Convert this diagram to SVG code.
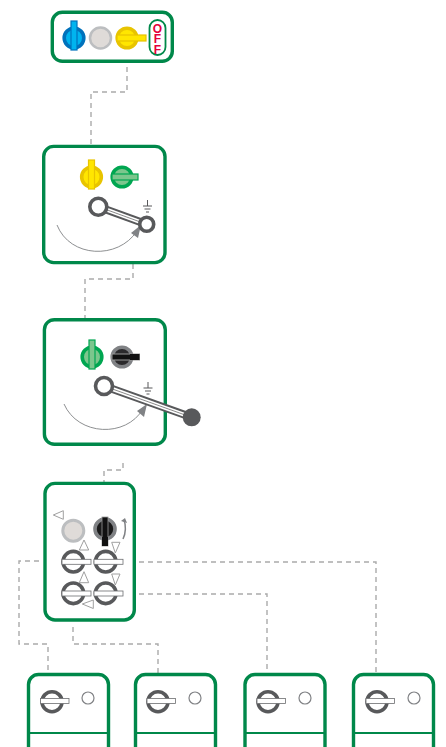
<svg xmlns="http://www.w3.org/2000/svg" width="446" height="747" viewBox="0 0 446 747">
<style>
.box{fill:#fff;stroke:#00884a;stroke-width:3.4}
.thin{fill:none;stroke:#00884a;stroke-width:2}
.c{fill:none;stroke:#aaa;stroke-width:1.4;stroke-dasharray:5 4}
.sw{fill:#fff;stroke:#58595b;stroke-width:3.6}
.bar{fill:#fff;stroke:#6d6e71;stroke-width:.8}
.tri{fill:#fff;stroke:#a0a0a0;stroke-width:1}
.led{fill:#fff;stroke:#808285;stroke-width:1.2}
.arc{fill:none;stroke:#808285;stroke-width:.9}
.hd{fill:#808285}
.gnd{fill:none;stroke:#58595b;stroke-width:1}
.off{font:bold 12px "Liberation Sans",Arial,sans-serif;fill:#e4003a;writing-mode:vertical-rl;text-orientation:upright;letter-spacing:-3.500px;text-anchor:middle}
.blue{fill:#00b4ef;stroke:#0072bc}
.yel{fill:#ffe600;stroke:#e8c400}
.grn{fill:#7cc68d;stroke:#00a651}
.blk{fill:#2b2a2c;stroke:#808285}
.k{stroke-width:3.6}
.b{stroke-width:1.2}
</style>
<g id="connectors">
<path class="c" d="M127 67V92H91V146"/>
<path class="c" d="M133 264V279H85V319"/>
<path class="c" d="M123 463V470H104V483"/>
<path class="c" d="M39 561H19V644H48V674"/>
<path class="c" d="M73 627V644H158V674"/>
<path class="c" d="M139 594H267V674"/>
<path class="c" d="M139 562H376V674"/>
</g>
<g id="node1">
<rect class="box" x="52.300" y="12.300" width="120" height="49" rx="10"/>
<circle class="blue k" cx="74" cy="38" r="9.800"/>
<rect class="blue b" x="71" y="21" width="6" height="29"/>
<circle cx="100.500" cy="38" r="10.500" fill="#dfdbd8" stroke="#bcbec0" stroke-width="2.500"/>
<circle class="yel k" cx="127" cy="38" r="9.800"/>
<rect class="yel b" x="117" y="35" width="29" height="6"/>
<rect x="149.500" y="20" width="16" height="35" rx="8" fill="#fff" stroke="#00884a" stroke-width="1.800"/>
<text class="off" x="157.500" y="37.500">OFF</text>
</g>
<g id="node2">
<rect class="box" x="43.700" y="146.400" width="121.300" height="116.200" rx="10"/>
<circle class="yel k" cx="91.500" cy="177" r="9.800"/>
<rect class="yel b" x="88.500" y="160" width="6" height="29"/>
<circle class="grn k" cx="122" cy="177" r="9.800"/>
<rect class="grn b" x="112" y="174" width="26" height="6"/>
<path class="arc" d="M57 225C70 258 118 260 137 231"/>
<path class="hd" d="M141 225L131 233L138 238Z"/>
<path d="M98.300 206.700L146.700 224.300" stroke="#58595b" stroke-width="8"/><path d="M98.300 206.700L146.700 224.300" stroke="#fff" stroke-width="4"/><path d="M98.300 206.700L146.700 224.300" stroke="#8a8a8a" stroke-width="1"/>
<circle class="sw" cx="98.300" cy="206.700" r="8.500"/><circle class="sw" cx="146.700" cy="224.300" r="7"/>
<path class="gnd" d="M147.500 200v6M143 206h9M144.500 209h6M146 212h3"/>
</g>
<g id="node3">
<rect class="box" x="44.400" y="319.700" width="120.900" height="124.600" rx="10"/>
<circle class="grn k" cx="92" cy="357" r="9.800"/>
<rect class="grn b" x="89" y="340" width="6" height="29"/>
<circle class="blk k" cx="122" cy="357" r="9.800"/>
<rect x="112" y="354" width="27.500" height="6" fill="#111" stroke="#9a9a9a" stroke-width="1"/><rect x="130" y="354" width="9.500" height="6" fill="#111"/>
<path class="arc" d="M64 404C78 436 126 438 143 409"/>
<path class="hd" d="M147 404L137 411L144 417Z"/>
<path d="M104 386L191.700 417.300" stroke="#58595b" stroke-width="8"/><path d="M104 386L186 415.300" stroke="#fff" stroke-width="4"/><path d="M104 386L186 415.300" stroke="#8a8a8a" stroke-width="1"/>
<circle class="sw" cx="104" cy="386" r="8.500"/><circle cx="191.700" cy="417.300" r="9" fill="#58595b"/>
<path class="gnd" d="M148 382v6M143.500 388h9M145 391h6M146.500 394h3"/>
</g>
<g id="node4">
<rect class="box" x="45" y="483.400" width="89.300" height="136.600" rx="10"/>
<path class="tri" d="M53.300 515L63.300 510.700V519.300Z"/>
<circle cx="73.300" cy="530.700" r="10.500" fill="#dfdbd8" stroke="#bcbec0" stroke-width="3"/>
<circle class="k" cx="105" cy="529" r="10" fill="#1a1a1a" stroke="#808285"/>
<rect x="102" y="517" width="6" height="29" fill="#111" stroke="#9a9a9a" stroke-width=".8"/><rect x="102" y="537" width="6" height="9" fill="#111"/>
<path d="M123 539C126 533 126 525 124 520" fill="none" stroke="#808285" stroke-width="1.500"/><path class="hd" d="M121 521L125 518L127 523Z"/>
<path class="tri" d="M84 540L79.300 550H88.700Z"/><path class="tri" d="M111.700 542.300H120L115.300 553Z"/>
<path class="tri" d="M84 571.700L79.300 582.700H88.700Z"/><path class="tri" d="M111.700 574H120L115.300 585Z"/>
<path class="tri" d="M82.300 604L93.300 600V608.500Z"/>
<g><circle class="sw" cx="73.300" cy="561.700" r="10.300"/><rect class="bar" x="62" y="559.300" width="29" height="5"/></g>
<g><circle class="sw" cx="105.700" cy="561.700" r="10.300"/><rect class="bar" x="94" y="559.300" width="29" height="5"/></g>
<g><circle class="sw" cx="73.300" cy="593.300" r="10.300"/><rect class="bar" x="62" y="591" width="29" height="5"/></g>
<g><circle class="sw" cx="105.700" cy="593.300" r="10.300"/><rect class="bar" x="94" y="591" width="29" height="5"/></g>
</g>
<g id="node5">
<path class="box" d="M28.500 747V684.500a10 10 0 0 1 10-10h60a10 10 0 0 1 10 10v62.500"/><path class="thin" d="M28.500 733h80"/>
<circle class="sw" cx="52" cy="701.700" r="10"/><rect class="bar" x="40.500" y="698.500" width="28.500" height="5"/><circle class="led" cx="88" cy="698" r="6"/>
</g>
<g id="node6">
<path class="box" d="M135.500 747V684.500a10 10 0 0 1 10-10h60a10 10 0 0 1 10 10v62.500"/><path class="thin" d="M135.500 733h80"/>
<circle class="sw" cx="158" cy="701.700" r="10"/><rect class="bar" x="147" y="698.500" width="28.500" height="5"/><circle class="led" cx="195" cy="698" r="6"/>
</g>
<g id="node7">
<path class="box" d="M245 747V684.500a10 10 0 0 1 10-10h60a10 10 0 0 1 10 10v62.500"/><path class="thin" d="M245 733h80"/>
<circle class="sw" cx="268" cy="701.700" r="10"/><rect class="bar" x="257" y="698.500" width="28.500" height="5"/><circle class="led" cx="305" cy="698" r="6"/>
</g>
<g id="node8">
<path class="box" d="M353.500 747V684.500a10 10 0 0 1 10-10h60a10 10 0 0 1 10 10v62.500"/><path class="thin" d="M353.500 733h80"/>
<circle class="sw" cx="377" cy="701.700" r="10"/><rect class="bar" x="366" y="698.500" width="28.500" height="5"/><circle class="led" cx="414" cy="698" r="6"/>
</g>
</svg>
